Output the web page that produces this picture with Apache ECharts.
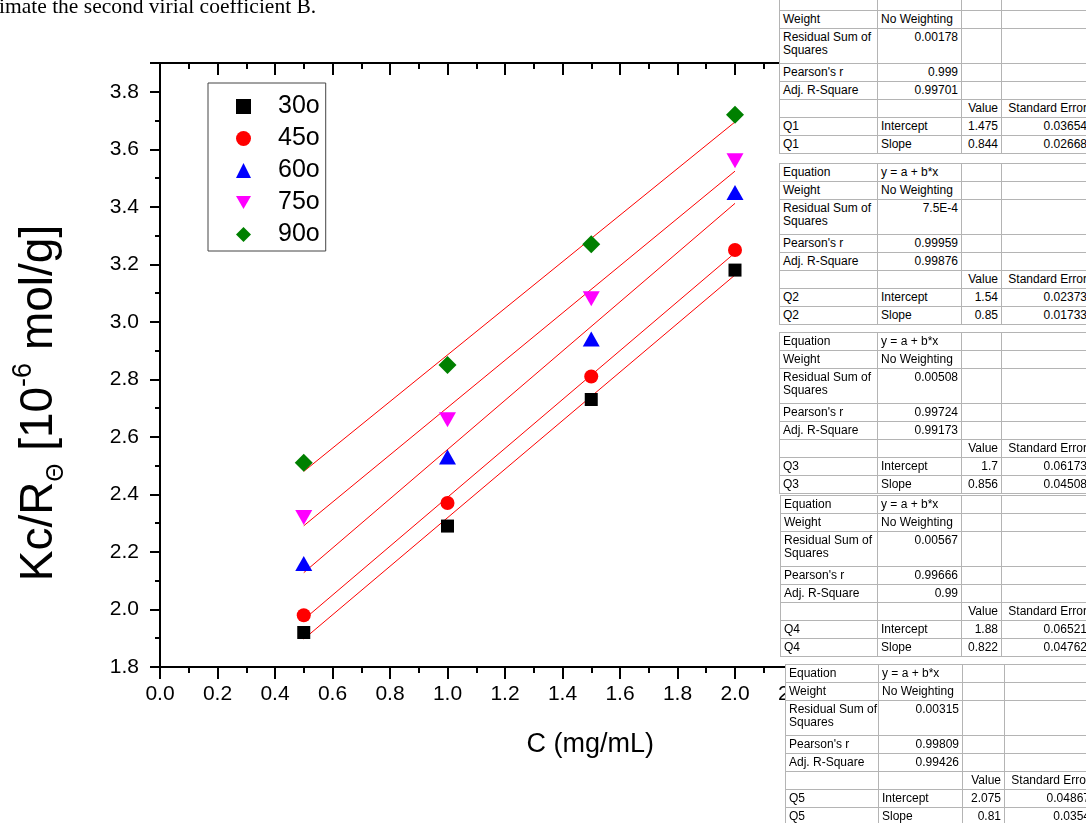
<!DOCTYPE html>
<html>
<head>
<meta charset="utf-8">
<script src="https://cdn.jsdelivr.net/npm/echarts@6/dist/echarts.min.js"></script>
<style>
  html, body { margin: 0; padding: 0; background: #fff; width: 1086px; height: 823px; overflow: hidden; }
  #chart { position: absolute; left: 0; top: 0; width: 1086px; height: 823px; }
  #caption { position: absolute; left: -1px; top: -4px; font-family: "Liberation Serif", "Times New Roman", serif; font-size: 21.5px; line-height: 21px; color: #000; white-space: nowrap; z-index: 2; }
  table.fit { position: absolute; border-collapse: collapse; background: #fff; font-family: "Liberation Sans", Arial, sans-serif; font-size: 12px; color: #000; z-index: 3; border: 1.5px solid #000; table-layout: fixed; }
  table.fit td { border: 1px solid #b4b4b4; padding: 0 3px; height: 17px; line-height: 13px; white-space: nowrap; overflow: hidden; vertical-align: middle; }
  table.fit tr.dbl td { height: 32px; vertical-align: top; padding-top: 2px; }
  td.r { text-align: right; }
  td.l { text-align: left; }
</style>
</head>
<body>
<div id="chart"></div>
<div id="caption">imate the second virial coefficient B.</div>
<script>
// ---- data ----
const concentrations = [0.5, 1.0, 1.5, 2.0];
const angleNames = ['30o', '45o', '60o', '75o', '90o'];
const kc30 = [1.92, 2.29, 2.73, 3.18];
const kc45 = [1.98, 2.37, 2.81, 3.25];
const kc60 = [2.16, 2.53, 2.94, 3.45];
const kc75 = [2.32, 2.66, 3.08, 3.56];
const kc90 = [2.51, 2.85, 3.27, 3.72];

// linear fit end points (x = 0.5 and x = 2.0), from the table coefficients
const fitX = [0.5, 2.0];
const fit30 = [1.897, 3.163];
const fit45 = [1.965, 3.24];
const fit60 = [2.128, 3.412];
const fit75 = [2.291, 3.524];
const fit90 = [2.48, 3.695];

// fit tables
const fitNames = ['Q1', 'Q2', 'Q3', 'Q4', 'Q5'];
const rss = ['0.00178', '7.5E-4', '0.00508', '0.00567', '0.00315'];
const pearson = ['0.999', '0.99959', '0.99724', '0.99666', '0.99809'];
const adjR2 = ['0.99701', '0.99876', '0.99173', '0.99', '0.99426'];
const intercepts = ['1.475', '1.54', '1.7', '1.88', '2.075'];
const slopes = ['0.844', '0.85', '0.856', '0.822', '0.81'];
const interceptErr = ['0.03654', '0.02373', '0.06173', '0.06521', '0.04867'];
const slopeErr = ['0.02668', '0.01733', '0.04508', '0.04762', '0.0354'];

// ---- styles ----
const kcSets = [kc30, kc45, kc60, kc75, kc90];
const fitSets = [fit30, fit45, fit60, fit75, fit90];
const colors = ['#000000', '#ff0000', '#0000ff', '#ff00ff', '#008000'];
const downTri = 'path://M0,0L20,0L10,17.3Z';
const symbols = ['rect', 'circle', 'triangle', downTri, 'diamond'];
const sizes = [13, 14, [17, 15], [17, 15], 18];

const series = [];
fitSets.forEach((f, i) => {
  series.push({
    name: 'fit ' + angleNames[i], type: 'line', xAxisIndex: 0,
    data: fitX.map((x, j) => [x, f[j]]),
    symbol: 'none', silent: true, z: 1,
    lineStyle: { color: '#ff0000', width: 1 }
  });
});
kcSets.forEach((d, i) => {
  series.push({
    name: angleNames[i], type: 'scatter', xAxisIndex: 0,
    data: concentrations.map((x, j) => [x, d[j]]),
    symbol: symbols[i], symbolSize: sizes[i], z: 3,
    itemStyle: { color: colors[i], opacity: 1 }
  });
});

const font = '"Liberation Sans", Arial, sans-serif';
const chart = echarts.init(document.getElementById('chart'), null, { renderer: 'canvas' });
chart.setOption({
  animation: false,
  backgroundColor: '#ffffff',
  grid: { left: 160, top: 63, right: 293.5, bottom: 156, containLabel: false },
  legend: {
    orient: 'vertical', left: 208, top: 83,
    padding: [11, 6, 4, 28],
    itemWidth: 15, itemHeight: 15, itemGap: 7,
    borderColor: '#444', borderWidth: 1,
    selectedMode: false,
    data: angleNames.map((n, i) => ({ name: n, icon: symbols[i], itemStyle: { color: colors[i] } })),
    formatter: '{t|{name}}',
    textStyle: { rich: { t: { fontSize: 25, lineHeight: 24, padding: [0, 0, 0, 22], fontFamily: font, color: '#000' } } }
  },
  xAxis: [{
    type: 'value', position: 'bottom', min: 0, max: 2.2, interval: 0.2,
    name: 'C (mg/mL)', nameLocation: 'middle', nameGap: 64,
    nameTextStyle: { fontSize: 27, fontFamily: font, color: '#000', padding: [0, 0, 0, 228] },
    axisLine: { show: true, onZero: false, lineStyle: { color: '#000', width: 2 } },
    axisTick: { show: true, inside: false, length: 12, lineStyle: { color: '#000', width: 2 } },
    minorTick: { show: true, splitNumber: 2, length: 6, lineStyle: { color: '#000', width: 2 } },
    axisLabel: { fontSize: 21, fontFamily: font, color: '#000', margin: 17, formatter: v => v.toFixed(1) },
    splitLine: { show: false }, minorSplitLine: { show: false }
  }, {
    type: 'value', position: 'top', min: 0, max: 2.2, interval: 0.2,
    axisLine: { show: true, onZero: false, lineStyle: { color: '#000', width: 2 } },
    axisTick: { show: true, inside: true, length: 12, lineStyle: { color: '#000', width: 2 } },
    minorTick: { show: true, splitNumber: 2, length: 6, lineStyle: { color: '#000', width: 2 } },
    axisLabel: { show: false },
    splitLine: { show: false }, minorSplitLine: { show: false }
  }],
  yAxis: [{
    type: 'value', min: 1.8, max: 3.9, interval: 0.2,
    name: '{a|Kc/R}{sub|Θ}{a| [10}{sup|-6}{a| mol/g]}',
    nameLocation: 'middle', nameGap: 92,
    nameTextStyle: {
      fontFamily: font, color: '#000', padding: [0, 76, 0, 0],
      rich: {
        a: { fontSize: 46, lineHeight: 58, fontFamily: font, color: '#000' },
        sub: { fontSize: 23, lineHeight: 23, verticalAlign: 'bottom', fontFamily: font, color: '#000' },
        sup: { fontSize: 27, lineHeight: 27, verticalAlign: 'top', fontFamily: font, color: '#000' }
      }
    },
    axisLine: { show: true, onZero: false, lineStyle: { color: '#000', width: 2 } },
    axisTick: { show: true, inside: false, length: 10, lineStyle: { color: '#000', width: 2 } },
    minorTick: { show: true, splitNumber: 2, length: 5, lineStyle: { color: '#000', width: 2 } },
    axisLabel: { fontSize: 21, fontFamily: font, color: '#000', margin: 21,
      formatter: v => (Math.abs(v - 3.9) < 1e-6 ? '' : v.toFixed(1)) },
    splitLine: { show: false }, minorSplitLine: { show: false }
  }],
  series: series
});

// ---- fit tables (HTML) ----
const tableTops = [-8, 163, 332, 495, 664];
const tableLefts = [779, 779, 779, 780, 785];
const tableCols = [[98, 84, 40, 89], [98, 84, 40, 89], [98, 84, 40, 89], [97, 84, 40, 89], [93, 84, 42, 89]];
fitNames.forEach((q, i) => {
  const t = document.createElement('table');
  t.className = 'fit';
  t.style.left = tableLefts[i] + 'px';
  t.style.top = tableTops[i] + 'px';
  const cw = tableCols[i];
  t.style.width = cw.reduce((a, b) => a + b, 0) + 'px';
  const eqRow = i === 0
    ? '<tr><td></td><td></td><td></td><td></td></tr>'
    : '<tr><td class="l">Equation</td><td class="l">y = a + b*x</td><td></td><td></td></tr>';
  t.innerHTML =
    '<colgroup>' + cw.map(w => '<col style="width:' + w + 'px">').join('') + '</colgroup>' +
    eqRow +
    '<tr><td class="l">Weight</td><td class="l">No Weighting</td><td></td><td></td></tr>' +
    '<tr class="dbl"><td class="l">Residual Sum of<br>Squares</td><td class="r">' + rss[i] + '</td><td></td><td></td></tr>' +
    '<tr><td class="l">Pearson\'s r</td><td class="r">' + pearson[i] + '</td><td></td><td></td></tr>' +
    '<tr><td class="l">Adj. R-Square</td><td class="r">' + adjR2[i] + '</td><td></td><td></td></tr>' +
    '<tr><td></td><td></td><td class="r">Value</td><td class="r">Standard Error</td></tr>' +
    '<tr><td class="l">' + q + '</td><td class="l">Intercept</td><td class="r">' + intercepts[i] + '</td><td class="r">' + interceptErr[i] + '</td></tr>' +
    '<tr><td class="l">' + q + '</td><td class="l">Slope</td><td class="r">' + slopes[i] + '</td><td class="r">' + slopeErr[i] + '</td></tr>';
  document.body.appendChild(t);
});
</script>
</body>
</html>
